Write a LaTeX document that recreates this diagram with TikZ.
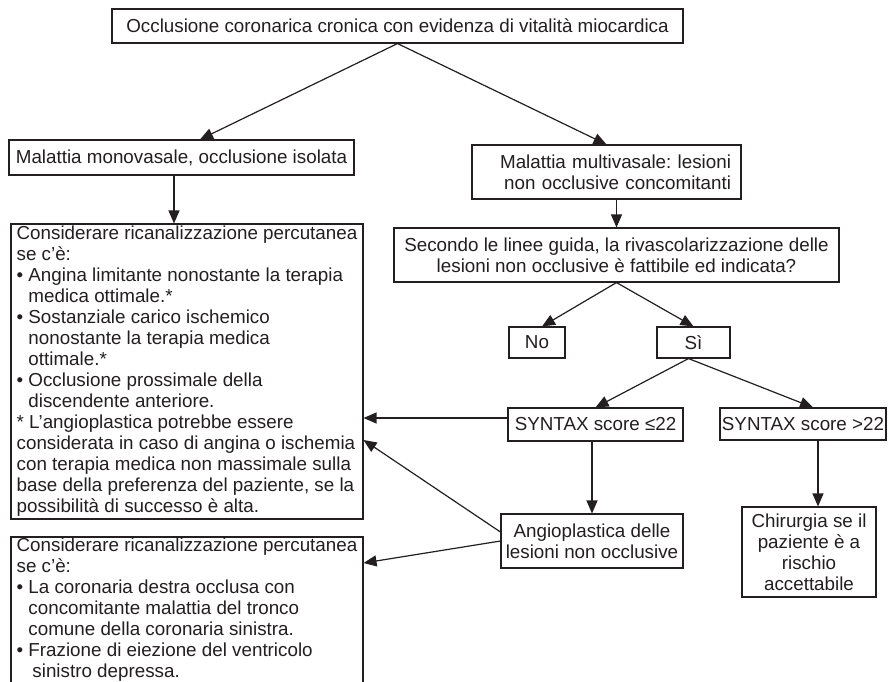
\documentclass[tikz,border=0pt]{standalone}
\usepackage{fontspec}
\setmainfont{Liberation Sans}
\usetikzlibrary{arrows.meta}
\definecolor{ink}{RGB}{35,31,32}
\newcommand{\ind}{\hphantom{•\ }}
\frenchspacing
\begin{document}
\begin{tikzpicture}[x=1pt,y=-1pt,
  box/.style={draw=ink, line width=1.1pt, text=ink, inner sep=0pt,
    font=\fontsize{18.8pt}{21pt}\selectfont},
  arr/.style={draw=ink, line width=1.2pt, -{Triangle[length=13pt,width=11pt]}}]
\clip (0,0) rectangle (888,681);
\fill[white] (0,0) rectangle (888,681);

\node[box, minimum width=571pt, minimum height=34pt] (top) at (397.5,26)
  {Occlusione coronarica cronica con evidenza di vitalità miocardica};
\node[box, minimum width=345pt, minimum height=35pt] (mono) at (181.5,157.5)
  {Malattia monovasale, occlusione isolata};
\node[box, text width=249pt, inner xsep=10pt, align=right, minimum height=54pt] (multi) at (606.5,172)
  {Malattia multivasale: lesioni\\non occlusive concomitanti};
\node[box, minimum width=445pt, minimum height=54pt, align=center] (sec) at (616.5,255)
  {Secondo le linee guida, la rivascolarizzazione delle\\lesioni non occlusive è fattibile ed indicata?};
\node[box, minimum width=56pt, minimum height=31pt] (no) at (537,342.5) {No};
\node[box, minimum width=73pt, minimum height=31pt] (si) at (693.5,342.5) {Sì};
\node[box, minimum width=175pt, minimum height=33pt] (sa) at (595.5,424.5) {SYNTAX score ≤22};
\node[box, minimum width=166pt, minimum height=32pt] (sb) at (803,424) {SYNTAX score >22};
\node[box, minimum width=182pt, minimum height=54pt, align=center] (angio) at (592,541)
  {Angioplastica delle\\lesioni non occlusive};
\node[box, minimum width=134pt, minimum height=90pt, align=center] (chir) at (809,552)
  {Chirurgia se il\\paziente è a\\rischio\\accettabile};
\node[box, minimum width=352pt, minimum height=295pt, align=left] (boxa) at (187,371.5)
  {Considerare ricanalizzazione percutanea\\
   se c’è:\\
   •\ Angina limitante nonostante la terapia\\
   \ind medica ottimale.*\\
   •\ Sostanziale carico ischemico\\
   \ind nonostante la terapia medica\\
   \ind ottimale.*\\
   •\ Occlusione prossimale della\\
   \ind discendente anteriore.\\
   * L’angioplastica potrebbe essere\\
   considerata in caso di angina o ischemia\\
   con terapia medica non massimale sulla\\
   base della preferenza del paziente, se la\\
   possibilità di successo è alta.};
\node[box, minimum width=352pt, minimum height=146pt, align=left] (boxb) at (187,610)
  {Considerare ricanalizzazione percutanea\\
   se c’è:\\
   •\ La coronaria destra occlusa con\\
   \ind concomitante malattia del tronco\\
   \ind comune della coronaria sinistra.\\
   •\ Frazione di eiezione del ventricolo\\
   \ind\hspace{4pt}sinistro depressa.};

\coordinate (monoout) at ([xshift=-7.5pt]mono.south);
\coordinate (chirin) at ([xshift=9pt]chir.north);
\coordinate (siout) at ([xshift=-5pt]si.south);

\draw[arr] (top.south) -- ([xshift=18.5pt]mono.north);
\draw[arr] (top.south) -- (multi.north);
\draw[arr] (monoout) -- (boxa.north -| monoout);
\draw[arr] (multi.south -| sec.north) -- (sec.north);
\draw[arr] (sec.south) -- ([xshift=5pt]no.north);
\draw[arr] (sec.south) -- (si.north);
\draw[arr] (siout) -- (sa.north);
\draw[arr] (siout) -- ([xshift=10pt]sb.north);
\draw[arr] (sa.south -| angio.north) -- (angio.north);
\draw[arr] (sb.south -| chirin) -- (chirin);
\draw[arr] ([yshift=6.5pt]sa.west) -- ([yshift=6.5pt]sa.west -| boxa.east);
\draw[arr] ([yshift=9pt]angio.west) -- ([yshift=-68.5pt]boxa.east);
\draw[arr] (angio.west) -- ([yshift=47pt]boxb.east);
\end{tikzpicture}
\end{document}
